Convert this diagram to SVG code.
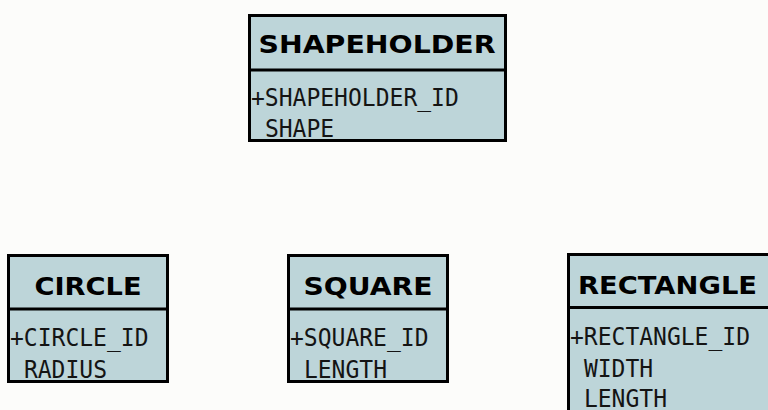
<svg xmlns="http://www.w3.org/2000/svg" width="768" height="410" viewBox="0 0 768 410">
<style>
.box{fill:#bdd5d9;stroke:#000;stroke-width:3}
.div{stroke:#000;stroke-width:3}
.t{font-family:"DejaVu Sans","Verdana",sans-serif;font-weight:bold;font-size:25px;fill:#000;text-anchor:middle}
.a{font-family:"DejaVu Sans Mono","Liberation Mono",monospace;font-size:25px;fill:#141414}
</style>
<rect width="768" height="410" fill="#fcfcfa"/>
<g id="connectors"></g>
<g id="shapeholder">
<rect class="box" x="249.5" y="15.5" width="256" height="125"/>
<line class="div" x1="249.5" y1="70" x2="505.5" y2="70"/>
<text class="t" x="377" y="53" textLength="237" lengthAdjust="spacingAndGlyphs">SHAPEHOLDER</text>
<text class="a" x="251" y="106" textLength="207.8" lengthAdjust="spacingAndGlyphs">+SHAPEHOLDER_ID</text>
<text class="a" x="264.9" y="137" textLength="69.3" lengthAdjust="spacingAndGlyphs">SHAPE</text>
</g>
<g id="circle">
<rect class="box" x="8.5" y="255.5" width="159" height="126"/>
<line class="div" x1="8.5" y1="309" x2="167.5" y2="309"/>
<text class="t" x="88" y="295" textLength="107" lengthAdjust="spacingAndGlyphs">CIRCLE</text>
<text class="a" x="10" y="346" textLength="138.5" lengthAdjust="spacingAndGlyphs">+CIRCLE_ID</text>
<text class="a" x="23.9" y="378" textLength="83.1" lengthAdjust="spacingAndGlyphs">RADIUS</text>
</g>
<g id="square">
<rect class="box" x="288.5" y="255.5" width="159" height="126"/>
<line class="div" x1="288.5" y1="309" x2="447.5" y2="309"/>
<text class="t" x="368" y="295" textLength="129" lengthAdjust="spacingAndGlyphs">SQUARE</text>
<text class="a" x="290" y="346" textLength="138.5" lengthAdjust="spacingAndGlyphs">+SQUARE_ID</text>
<text class="a" x="303.9" y="378" textLength="83.1" lengthAdjust="spacingAndGlyphs">LENGTH</text>
</g>
<g id="rectangle">
<rect class="box" x="568.5" y="254.5" width="210" height="170"/>
<line class="div" x1="568.5" y1="307.5" x2="778.5" y2="307.5"/>
<text class="t" x="667.5" y="294" textLength="179" lengthAdjust="spacingAndGlyphs">RECTANGLE</text>
<text class="a" x="570" y="345" textLength="180" lengthAdjust="spacingAndGlyphs">+RECTANGLE_ID</text>
<text class="a" x="583.9" y="377" textLength="69.3" lengthAdjust="spacingAndGlyphs">WIDTH</text>
<text class="a" x="583.9" y="407" textLength="83.1" lengthAdjust="spacingAndGlyphs">LENGTH</text>
</g>
</svg>
